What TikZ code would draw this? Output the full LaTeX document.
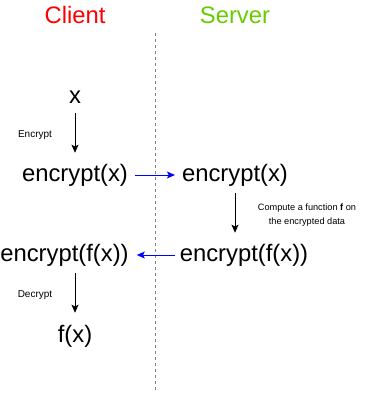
\documentclass[tikz,border=0pt]{standalone}
\usepackage{fontspec}
\setmainfont{Liberation Sans}
\usetikzlibrary{arrows.meta}
\definecolor{clientred}{RGB}{255,0,0}
\definecolor{servergreen}{RGB}{102,204,0}
\definecolor{divgray}{RGB}{128,128,128}
\tikzset{
  big/.style={inner sep=0pt, font=\fontsize{23.8}{28}\selectfont},
  small/.style={inner sep=0pt, font=\fontsize{10}{12}\selectfont},
  tiny/.style={inner sep=0pt, align=center, font=\fontsize{9.2}{14}\selectfont},
  arr/.style={draw=black, line width=0.9pt, -{Stealth[length=8pt,width=7pt,inset=1.8pt]}},
  barr/.style={draw=blue, line width=0.9pt, -{Stealth[length=8pt,width=7pt,inset=1.8pt]}},
  divider/.style={draw=divgray, line width=0.6pt, dash pattern=on 3pt off 3pt}
}
\begin{document}
\begin{tikzpicture}[x=1pt,y=-1pt]
\useasboundingbox (0,0) rectangle (366,396);
\node[big, text=clientred] (client) at (75,15) {Client};
\node[big, text=servergreen] (server) at (235,15) {Server};
\coordinate (dtop) at (155,33);
\coordinate (dbot) at (155,392);
\draw[divider] (dtop) -- (dbot);

\node[big] (x) at (75,97) {x};
\node[big] (enc1) at (75,175) {encrypt(x)};
\node[big] (enc2) at (235,175) {encrypt(x)};
\node[big] (encf1) at (64.5,255) {encrypt(f(x))};
\node[big] (encf2) at (244,255) {encrypt(f(x))};
\node[big] (fx) at (75,336) {f(x)};

\node[small] (lenc) at (35,135) {Encrypt};
\node[small] (ldec) at (35,295) {Decrypt};
\node[tiny] (lcomp) at (307,215) {Compute a function \textbf{f} on\\the encrypted data};

\draw[arr, shorten <=10pt, shorten >=11pt] (x) -- (enc1);
\draw[barr, shorten <=7pt, shorten >=7pt] (enc1) -- (enc2);
\draw[arr, shorten <=7pt, shorten >=11pt] (enc2.south) -- (enc2.south |- encf2.north);
\draw[barr, shorten <=5pt, shorten >=8pt] (encf2) -- (encf1);
\draw[arr, shorten <=7pt, shorten >=12pt] (fx.north |- encf1.south) -- (fx.north);
\end{tikzpicture}
\end{document}
